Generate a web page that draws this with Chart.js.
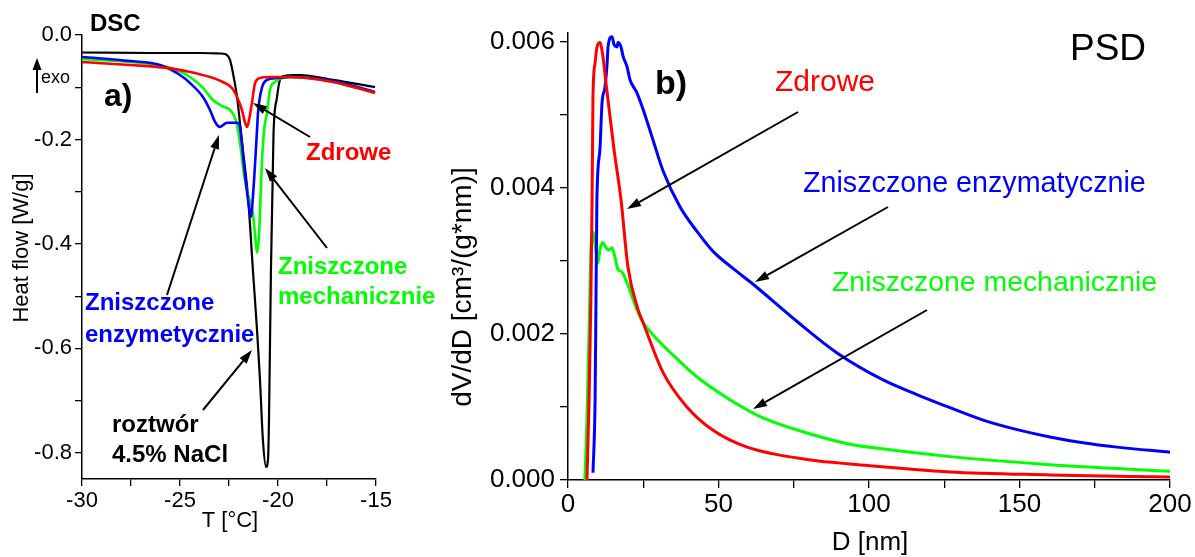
<!DOCTYPE html>
<html>
<head>
<meta charset="utf-8">
<script src="https://cdn.jsdelivr.net/npm/chart.js@4.4.0/dist/chart.umd.min.js"></script>
<style>
  html, body { margin: 0; padding: 0; background: #fff; }
  #wrap { position: relative; width: 1195px; height: 557px; overflow: hidden; }
  #dsc { position: absolute; left: 0; top: 0; }
  #psd { position: absolute; left: 440px; top: 0; }
</style>
</head>
<body>
<div id="wrap">
  <canvas id="dsc" width="440" height="557"></canvas>
  <canvas id="psd" width="755" height="557"></canvas>
</div>
<script>
// ---------- a) DSC: temperature [°C] vs heat flow [W/g] ----------
const T_solution = [-30, -26.53, -23.98, -22.96, -22.70, -22.45, -22.30, -22.09, -21.94, -21.79, -21.53, -21.28, -21.07, -20.92, -20.77, -20.61, -20.51, -20.46, -20.36, -20.23, -20.05, -19.90, -19.64, -19.23, -18.88, -17.19, -15.05];
const H_solution = [-0.0335, -0.0345, -0.0345, -0.0354, -0.0364, -0.0478, -0.0727, -0.1187, -0.168, -0.220, -0.310, -0.450, -0.565, -0.660, -0.775, -0.827, -0.813, -0.737, -0.450, -0.191, -0.119, -0.086, -0.078, -0.0766, -0.0766, -0.086, -0.0995];

const T_healthy = [-30, -27.55, -25.66, -24.49, -23.47, -22.81, -22.35, -22.09, -21.84, -21.68, -21.58, -21.48, -21.33, -21.17, -20.92, -20.41, -19.39, -17.19, -15.05];
const H_healthy = [-0.0517, -0.0574, -0.063, -0.0708, -0.0804, -0.090, -0.1014, -0.1187, -0.1435, -0.168, -0.176, -0.163, -0.130, -0.092, -0.0823, -0.0804, -0.0804, -0.090, -0.111];

const T_enzymatic = [-30, -27.55, -26.02, -25.0, -24.49, -23.83, -23.47, -23.21, -22.96, -22.60, -22.09, -21.94, -21.89, -21.68, -21.43, -21.38, -21.28, -21.07, -21.02, -20.82, -20.56, -20.05, -19.39, -17.19, -15.05];
const H_enzymatic = [-0.0421, -0.0498, -0.0574, -0.0766, -0.0919, -0.1187, -0.1435, -0.1665, -0.176, -0.168, -0.168, -0.176, -0.191, -0.268, -0.341, -0.348, -0.310, -0.182, -0.149, -0.101, -0.086, -0.0823, -0.0804, -0.088, -0.109];

const T_mechanical = [-30, -27.55, -25.66, -24.49, -23.83, -23.32, -22.86, -22.45, -22.19, -22.04, -21.89, -21.73, -21.53, -21.28, -21.17, -21.07, -20.97, -20.82, -20.71, -20.56, -20.41, -20.15, -19.90, -19.39, -17.19, -15.05];
const H_mechanical = [-0.046, -0.0517, -0.061, -0.0804, -0.1014, -0.1244, -0.1359, -0.1435, -0.159, -0.182, -0.220, -0.268, -0.306, -0.341, -0.383, -0.417, -0.383, -0.245, -0.182, -0.149, -0.105, -0.090, -0.084, -0.0804, -0.090, -0.111];

const dscTempTicks = [-30, -27.5, -25, -22.5, -20, -17.5, -15];
const dscHeatTicks = [0, -0.1, -0.2, -0.3, -0.4, -0.5, -0.6, -0.7, -0.8];

// ---------- b) PSD: pore diameter D [nm] vs dV/dD ----------
const D_healthy = [6.3, 7.0, 7.6, 8.0, 8.3, 9.0, 9.6, 10.6, 11.6, 12.6, 15.3, 17.6, 19.9, 23.3, 24.9, 31.6, 39.5, 48.2, 59.5, 81.4, 93.7, 126.9, 160.1, 200];
const V_healthy = [0, 0.0011, 0.00247, 0.00384, 0.00525, 0.00571, 0.00592, 0.00599, 0.0058, 0.00544, 0.00452, 0.00384, 0.00292, 0.00233, 0.00216, 0.00147, 0.0010, 0.00068, 0.00045, 0.00027, 0.00022, 0.00011, 0.00007, 0.00004];

const D_enzymatic = [8.3, 9.0, 9.3, 9.6, 10.6, 11.3, 12.3, 13.0, 13.3, 14.6, 15.3, 16.3, 16.6, 17.6, 18.3, 19.6, 20.6, 22.9, 24.9, 27.9, 31.6, 37.2, 42.9, 48.2, 55.0, 61.5, 76.1, 89.4, 104.7, 115.9, 126.9, 137.9, 149.2, 160.1, 171.1, 182.4, 200];
const V_enzymatic = [0.0001, 0.0011, 0.00247, 0.00384, 0.00452, 0.00516, 0.00538, 0.00571, 0.00593, 0.00607, 0.00596, 0.00593, 0.00599, 0.00593, 0.0058, 0.00566, 0.00548, 0.0053, 0.00508, 0.0047, 0.00423, 0.00374, 0.0034, 0.00313, 0.00289, 0.00268, 0.00217, 0.00174, 0.00137, 0.00117, 0.00099, 0.00082, 0.00069, 0.00059, 0.00051, 0.00045, 0.00038];

const D_mechanical = [5.6, 6.3, 7.0, 7.3, 7.6, 8.3, 9.0, 10.0, 10.6, 11.6, 12.6, 13.6, 14.6, 15.6, 16.6, 17.9, 19.6, 21.3, 22.9, 24.9, 28.2, 34.9, 42.9, 53.8, 64.8, 81.4, 93.7, 103.7, 126.9, 160.1, 200];
const V_mechanical = [0, 0.00082, 0.00205, 0.0026, 0.00315, 0.0034, 0.00322, 0.00297, 0.00315, 0.00325, 0.00318, 0.00315, 0.00318, 0.00305, 0.00288, 0.00285, 0.0027, 0.00251, 0.00233, 0.00216, 0.00199, 0.00171, 0.00141, 0.0011, 0.00085, 0.00062, 0.00049, 0.00043, 0.00032, 0.00021, 0.00012];

const psdDiamTicks = [0, 25, 50, 75, 100, 125, 150, 175, 200];
const psdVolTicks = [0, 0.001, 0.002, 0.003, 0.004, 0.005, 0.006];

// ---------- helpers ----------
const FONT = "'Liberation Sans', Arial, sans-serif";
const RED = '#ff0000', BLUE = '#0000ff', GREEN = '#00ff00', BLACK = '#000000';

const pairs = (xs, ys) => xs.map((x, i) => ({ x: x, y: ys[i] }));

function line(label, xs, ys, color, width) {
  return {
    label: label,
    data: pairs(xs, ys),
    borderColor: color,
    backgroundColor: color,
    borderWidth: width,
    pointRadius: 0,
    fill: false,
    cubicInterpolationMode: 'monotone'
  };
}

function drawArrow(ctx, x1, y1, x2, y2, lw, headLen, headHalf) {
  const ang = Math.atan2(y2 - y1, x2 - x1);
  const bx = x2 - headLen * Math.cos(ang), by = y2 - headLen * Math.sin(ang);
  ctx.save();
  ctx.strokeStyle = '#000';
  ctx.fillStyle = '#000';
  ctx.lineWidth = lw;
  ctx.beginPath();
  ctx.moveTo(x1, y1);
  ctx.lineTo(bx, by);
  ctx.stroke();
  ctx.beginPath();
  ctx.moveTo(x2, y2);
  ctx.lineTo(bx + headHalf * Math.sin(ang), by - headHalf * Math.cos(ang));
  ctx.lineTo(bx - headHalf * Math.sin(ang), by + headHalf * Math.cos(ang));
  ctx.closePath();
  ctx.fill();
  ctx.restore();
}

function drawText(ctx, t) {
  ctx.save();
  ctx.font = t.font;
  ctx.fillStyle = t.color || '#000';
  ctx.textAlign = t.align || 'left';
  ctx.textBaseline = 'middle';
  if (t.rotate) {
    ctx.translate(t.x, t.y);
    ctx.rotate(t.rotate);
    ctx.fillText(t.text, 0, 0);
  } else {
    ctx.fillText(t.text, t.x, t.y);
  }
  ctx.restore();
}

// Plugin that places the panel labels, axis titles and pointer arrows
const notesPlugin = {
  id: 'notes',
  afterDatasetsDraw(chart, args, opts) {
    const ctx = chart.ctx;
    (opts.texts || []).forEach(t => drawText(ctx, t));
    (opts.arrows || []).forEach(a => drawArrow(ctx, a[0], a[1], a[2], a[3], a[4] || 2, a[5] || 14, a[6] || 4.5));
  }
};

function axis(opts) {
  return {
    type: 'linear',
    min: opts.min,
    max: opts.max,
    afterBuildTicks: s => { s.ticks = opts.ticks.map(v => ({ value: v })); },
    afterFit: s => { if (opts.width !== undefined) s.width = opts.width; if (opts.height !== undefined) s.height = opts.height; },
    ticks: {
      autoSkip: false,
      maxRotation: 0,
      color: '#000',
      padding: opts.pad,
      font: { family: FONT, size: opts.size },
      callback: opts.fmt
    },
    grid: { drawOnChartArea: false, drawTicks: true, tickLength: opts.tick, color: '#000', lineWidth: 1.3 },
    border: { display: true, color: '#000', width: 1.5 }
  };
}

const common = {
  responsive: false,
  devicePixelRatio: 1,
  animation: false,
  events: [],
  plugins: { legend: { display: false }, tooltip: { enabled: false } }
};

// ---------- chart a) ----------
new Chart(document.getElementById('dsc'), {
  type: 'line',
  data: {
    datasets: [
      line('Zdrowe', T_healthy, H_healthy, RED, 2.6),
      line('Zniszczone enzymatycznie', T_enzymatic, H_enzymatic, BLUE, 2.6),
      line('Zniszczone mechanicznie', T_mechanical, H_mechanical, GREEN, 2.6),
      line('roztwór 4.5% NaCl', T_solution, H_solution, BLACK, 2.2)
    ]
  },
  options: Object.assign({}, common, {
    layout: { padding: { left: 0, right: 64, top: 35, bottom: 0 } },
    scales: {
      x: axis({ min: -30, max: -15, ticks: dscTempTicks, size: 22, pad: 2, tick: 7, height: 78,
        fmt: v => (Math.abs(v % 5) < 1e-9 ? String(v) : '') }),
      y: axis({ min: -0.85, max: 0, ticks: dscHeatTicks, size: 22, pad: 3, tick: 7, width: 82,
        fmt: v => (Math.round(Math.abs(v) * 10) % 2 === 0 ? v.toFixed(1) : '') })
    },
    plugins: Object.assign({}, common.plugins, {
      notes: {
        texts: [
          { text: 'DSC', x: 90, y: 24, font: `bold 24px ${FONT}` },
          { text: 'exo', x: 41, y: 78, font: `18px ${FONT}` },
          { text: 'a)', x: 104, y: 97, font: `bold 32px ${FONT}` },
          { text: 'Zdrowe', x: 306, y: 153, font: `bold 24px ${FONT}`, color: RED },
          { text: 'Zniszczone', x: 278, y: 267, font: `bold 24px ${FONT}`, color: GREEN },
          { text: 'mechanicznie', x: 278, y: 297, font: `bold 24px ${FONT}`, color: GREEN },
          { text: 'Zniszczone', x: 85, y: 303, font: `bold 24px ${FONT}`, color: BLUE },
          { text: 'enzymetycznie', x: 85, y: 335, font: `bold 24px ${FONT}`, color: BLUE },
          { text: 'roztwór', x: 112, y: 425, font: `bold 24px ${FONT}` },
          { text: '4.5% NaCl', x: 112, y: 455, font: `bold 24px ${FONT}` },
          { text: 'T [°C]', x: 230, y: 521, font: `22px ${FONT}`, align: 'center' },
          { text: 'Heat flow [W/g]', x: 22, y: 248, font: `22px ${FONT}`, align: 'center', rotate: -Math.PI / 2 }
        ],
        arrows: [
          [37, 93, 37, 58, 2, 12, 4.5],
          [310, 137, 253, 103],
          [327, 248, 265, 168],
          [167, 295, 219, 135],
          [203, 410, 252, 350]
        ]
      }
    })
  }),
  plugins: [notesPlugin]
});

// ---------- chart b) ----------
const OX = 440; // left edge of this canvas on the page
new Chart(document.getElementById('psd'), {
  type: 'line',
  data: {
    datasets: [
      line('Zdrowe', D_healthy, V_healthy, RED, 3),
      line('Zniszczone enzymatycznie', D_enzymatic, V_enzymatic, BLUE, 3),
      line('Zniszczone mechanicznie', D_mechanical, V_mechanical, GREEN, 3)
    ]
  },
  options: Object.assign({}, common, {
    layout: { padding: { left: 0, right: 25, top: 33, bottom: 0 } },
    scales: {
      x: axis({ min: 0, max: 200, ticks: psdDiamTicks, size: 26, pad: 1, tick: 8, height: 77,
        fmt: v => (v % 50 === 0 ? String(v) : '') }),
      y: axis({ min: 0, max: 0.00612, ticks: psdVolTicks, size: 26, pad: 5, tick: 8, width: 128,
        fmt: v => (Math.round(v * 1000) % 2 === 0 ? v.toFixed(3) : '') })
    },
    plugins: Object.assign({}, common.plugins, {
      notes: {
        texts: [
          { text: 'PSD', x: 1070 - OX, y: 50, font: `37px ${FONT}` },
          { text: 'b)', x: 655 - OX, y: 85, font: `bold 34px ${FONT}` },
          { text: 'Zdrowe', x: 775 - OX, y: 83, font: `30px ${FONT}`, color: RED },
          { text: 'Zniszczone enzymatycznie', x: 803 - OX, y: 184, font: `28.7px ${FONT}`, color: BLUE },
          { text: 'Zniszczone mechanicznie', x: 832 - OX, y: 283, font: `28.4px ${FONT}`, color: GREEN },
          { text: 'D [nm]', x: 870 - OX, y: 543, font: `26px ${FONT}`, align: 'center' },
          { text: 'dV/dD [cm³/(g*nm)]', x: 463 - OX, y: 287, font: `28px ${FONT}`, align: 'center', rotate: -Math.PI / 2 }
        ],
        arrows: [
          [798 - OX, 112, 627 - OX, 209],
          [888 - OX, 207, 755 - OX, 282],
          [927 - OX, 310, 753 - OX, 409]
        ]
      }
    })
  }),
  plugins: [notesPlugin]
});
</script>
</body>
</html>
